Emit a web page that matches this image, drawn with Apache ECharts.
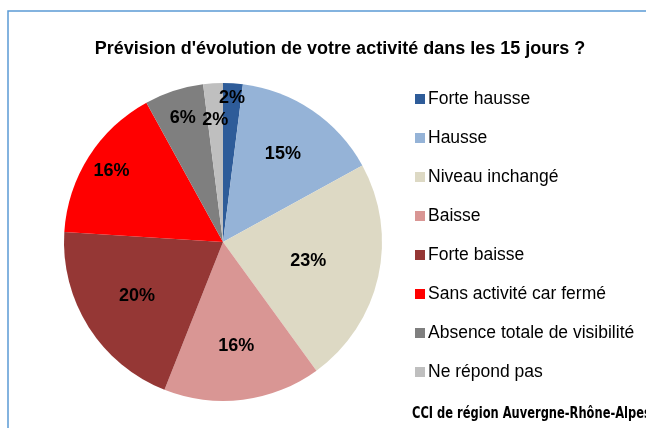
<!DOCTYPE html>
<html>
<head>
<meta charset="utf-8">
<script src="https://cdn.jsdelivr.net/npm/echarts@6/dist/echarts.min.js"></script>
<style>
  html, body { margin: 0; padding: 0; background: #fff; }
  #main { width: 646px; height: 428px; }
</style>
</head>
<body>
<div id="main"></div>
<script>
// données (en %)
var categories = ['Forte hausse', 'Hausse', 'Niveau inchangé', 'Baisse', 'Forte baisse',
                  'Sans activité car fermé', 'Absence totale de visibilité', 'Ne répond pas'];
var values = [2, 15, 23, 16, 20, 16, 6, 2];
var colors = ['#2E5C99', '#95B3D7', '#DDD9C4', '#D99694', '#953735', '#FF0000', '#7F7F7F', '#BFBFBF'];
// distance des étiquettes au centre (fraction du rayon), comme dans Excel
var labelRadius = [0.91, 0.67, 0.55, 0.66, 0.64, 0.83, 0.82, 0.77];

var cx = 223, cy = 242, r = 159;

var myChart = echarts.init(document.getElementById('main'));

var option = {
    animation: false,
    title: {
        text: "Prévision d'évolution de votre activité dans les 15 jours ?",
        left: 335,
        top: 35,
        textAlign: 'center',
        textStyle: { fontFamily: 'Liberation Sans', fontWeight: 'bold', fontSize: 18, color: '#000' }
    },
    legend: {
        orient: 'vertical',
        left: 410,
        top: 85,
        itemWidth: 10,
        itemHeight: 10,
        itemGap: 21,
        icon: 'rect',
        data: categories,
        textStyle: { fontFamily: 'Liberation Sans', fontSize: 17.5, lineHeight: 18, color: '#000', padding: [0, 0, 0, -2] }
    },
    graphic: [
        {
            type: 'rect',
            shape: { x: 8, y: 11, width: 700, height: 500 },
            style: { fill: 'none', stroke: '#5B9BD5', lineWidth: 1.5 },
            silent: true
        },
        {
            type: 'text',
            x: 412,
            y: 407,
            scaleX: 0.85,
            style: {
                text: 'CCI de région Auvergne-Rhône-Alpes',
                font: 'bold 15px "DejaVu Sans Condensed"',
                fill: '#000',
                verticalAlign: 'top'
            }
        }
    ],
    series: [
        {
            type: 'pie',
            center: [cx, cy],
            radius: r,
            startAngle: 90,
            clockwise: true,
            data: categories.map(function (c, i) {
                return { name: c, value: values[i], itemStyle: { color: colors[i] } };
            }),
            label: {
                show: true,
                position: 'inside',
                formatter: '{c}%',
                fontFamily: 'Liberation Sans',
                fontWeight: 'bold',
                fontSize: 18,
                color: '#000'
            },
            labelLayout: function (params) {
                var lr = params.labelRect;
                var x = lr.x + lr.width / 2 - cx;
                var y = lr.y + lr.height / 2 - cy;
                var d = Math.sqrt(x * x + y * y) || 1;
                var k = labelRadius[params.dataIndex] * r / d;
                return { x: cx + x * k, y: cy + y * k, align: 'center', verticalAlign: 'middle' };
            },
            labelLine: { show: false }
        }
    ]
};

myChart.setOption(option);
</script>
</body>
</html>
